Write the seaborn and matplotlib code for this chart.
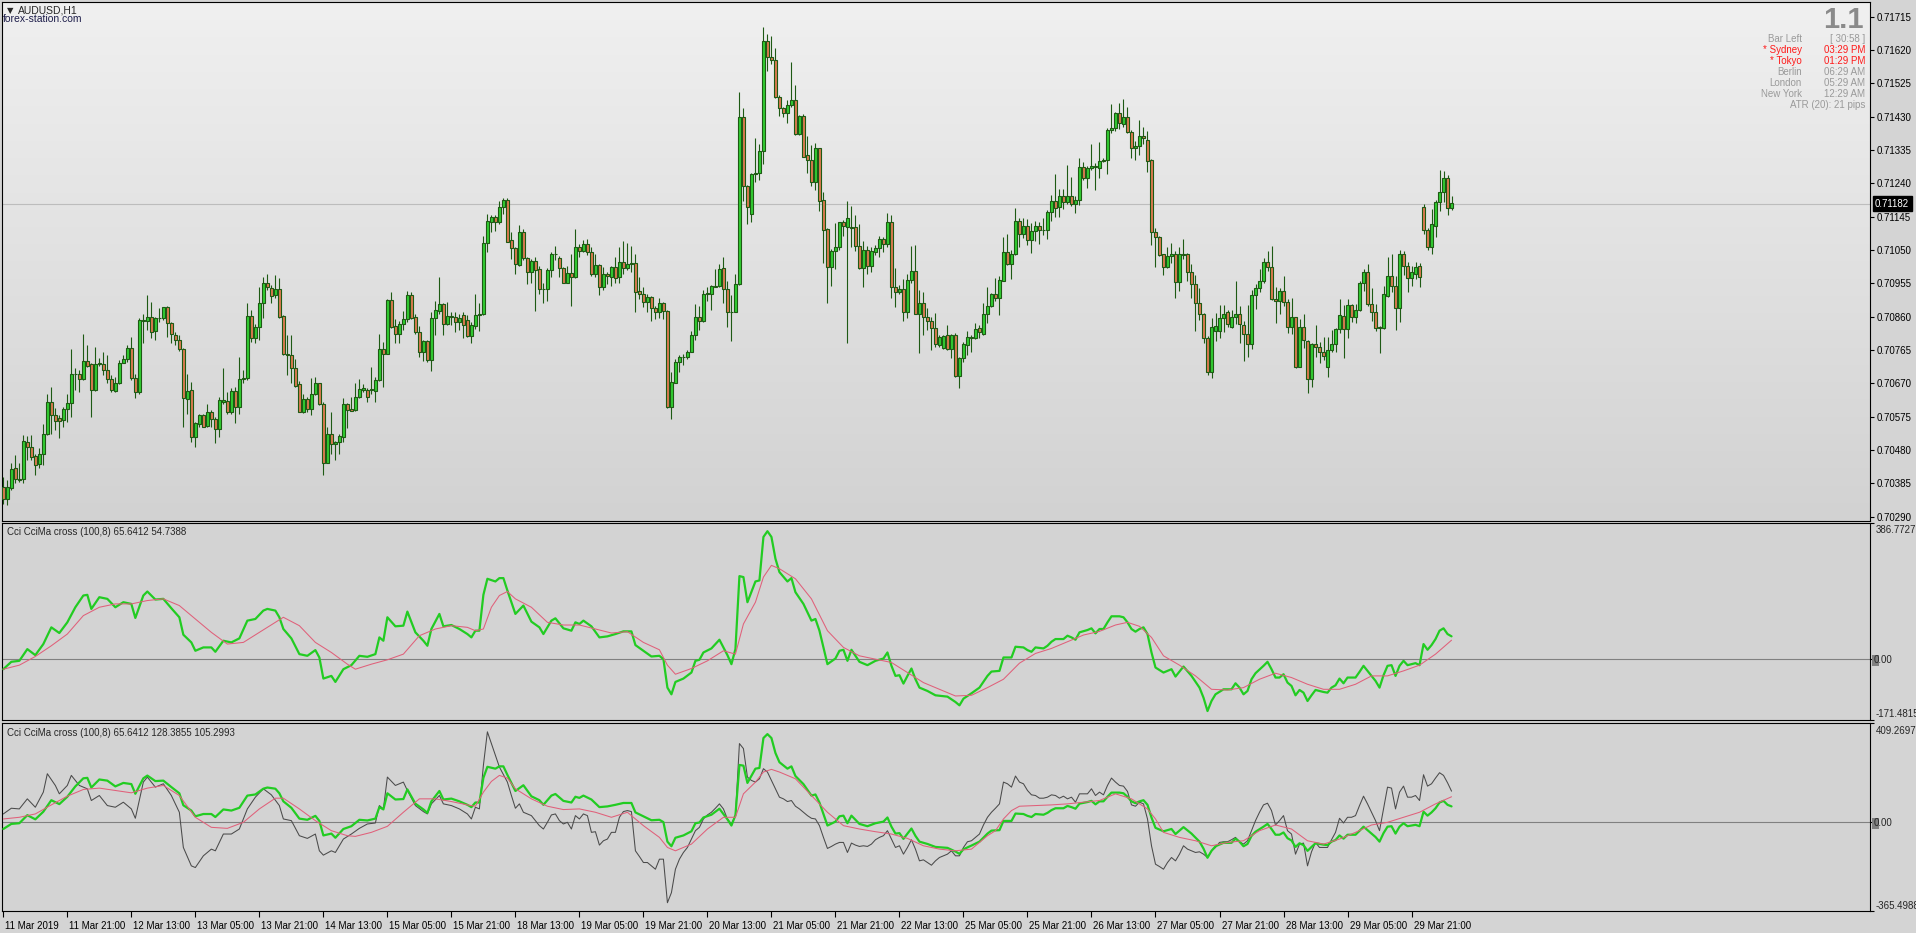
import numpy as np
import matplotlib
matplotlib.use("Agg")
import matplotlib.pyplot as plt
import matplotlib.transforms as mtrans
from matplotlib.colors import LinearSegmentedColormap
from matplotlib.patches import Rectangle
import seaborn as sns

# ---------------- DATA (AUDUSD H1, 11 Mar 2019 - 29 Mar 2019) ----------------
open_ = [
0.70374,0.70340,0.70371,0.70428,0.70397,0.70396,0.70504,0.70490,0.70463,0.70439,
0.70470,0.70527,0.70616,0.70580,0.70570,0.70565,0.70596,0.70613,0.70697,0.70697,
0.70682,0.70734,0.70724,0.70651,0.70724,0.70726,0.70708,0.70682,0.70649,0.70672,
0.70727,0.70738,0.70770,0.70686,0.70646,0.70850,0.70848,0.70858,0.70820,0.70855,
0.70855,0.70887,0.70841,0.70808,0.70793,0.70767,0.70624,0.70651,0.70516,0.70554,
0.70580,0.70548,0.70587,0.70567,0.70539,0.70618,0.70620,0.70589,0.70649,0.70603,
0.70681,0.70686,0.70862,0.70798,0.70830,0.70898,0.70955,0.70941,0.70921,0.70938,
0.70862,0.70753,0.70751,0.70713,0.70667,0.70589,0.70624,0.70596,0.70641,0.70670,
0.70610,0.70444,0.70525,0.70496,0.70502,0.70518,0.70610,0.70596,0.70594,0.70630,
0.70651,0.70651,0.70650,0.70649,0.70680,0.70767,0.70755,0.70907,0.70833,0.70812,
0.70839,0.70852,0.70922,0.70858,0.70815,0.70758,0.70791,0.70736,0.70855,0.70877,
0.70896,0.70838,0.70862,0.70859,0.70846,0.70865,0.70850,0.70806,0.70834,0.70865,
0.70867,0.71069,0.71131,0.71143,0.71131,0.71173,0.71194,0.71078,0.71055,0.71007,
0.71100,0.71026,0.70986,0.71019,0.70995,0.70938,0.70938,0.70993,0.71040,0.71026,
0.70998,0.70957,0.70985,0.70974,0.71058,0.71047,0.71066,0.71045,0.70981,0.71006,
0.70944,0.70981,0.70974,0.71002,0.70972,0.71017,0.71000,0.71009,0.71012,0.70933,
0.70926,0.70901,0.70915,0.70884,0.70872,0.70898,0.70876,0.70603,0.70672,0.70730,
0.70744,0.70744,0.70760,0.70808,0.70860,0.70849,0.70926,0.70926,0.70947,0.70947,
0.70998,0.70938,0.70872,0.70874,0.70952,0.71428,0.71233,0.71152,0.71267,0.71269,
0.71333,0.71646,0.71599,0.71591,0.71485,0.71454,0.71441,0.71462,0.71477,0.71380,
0.71432,0.71320,0.71308,0.71245,0.71340,0.71194,0.71109,0.71001,0.71047,0.71058,
0.71129,0.71115,0.71117,0.71115,0.71062,0.71000,0.71050,0.71005,0.71045,0.71055,
0.71081,0.71066,0.71129,0.70945,0.70929,0.70938,0.70874,0.70964,0.70990,0.70869,
0.70898,0.70858,0.70849,0.70827,0.70779,0.70770,0.70808,0.70767,0.70808,0.70692,
0.70741,0.70780,0.70801,0.70798,0.70827,0.70812,0.70867,0.70890,0.70926,0.70912,
0.70962,0.71043,0.71009,0.71040,0.71133,0.71097,0.71118,0.71078,0.71104,0.71119,
0.71107,0.71107,0.71158,0.71190,0.71172,0.71205,0.71188,0.71205,0.71180,0.71194,
0.71286,0.71254,0.71283,0.71290,0.71283,0.71304,0.71306,0.71392,0.71397,0.71440,
0.71409,0.71428,0.71385,0.71340,0.71346,0.71375,0.71365,0.71306,0.71100,0.71086,
0.71038,0.71001,0.71034,0.71038,0.70960,0.71038,0.71038,0.70988,0.70952,0.70898,
0.70869,0.70798,0.70703,0.70819,0.70819,0.70855,0.70872,0.70831,0.70860,0.70867,
0.70836,0.70812,0.70781,0.70922,0.70941,0.70962,0.71015,0.71002,0.70910,0.70905,
0.70933,0.70901,0.70831,0.70858,0.70717,0.70830,0.70791,0.70681,0.70781,0.70773,
0.70760,0.70717,0.70765,0.70781,0.70824,0.70862,0.70824,0.70893,0.70860,0.70879,
0.70955,0.70986,0.70896,0.70874,0.70829,0.70827,0.70920,0.70977,0.70947,0.70884,
0.71038,0.71005,0.70971,0.70983,0.71005,0.71173,0.71107,0.71059,0.71119,0.71186,
0.71214,0.71254,0.71171]

high = [
0.70402,0.70395,0.70442,0.70466,0.70442,0.70523,0.70520,0.70523,0.70470,0.70485,
0.70554,0.70641,0.70659,0.70599,0.70580,0.70603,0.70641,0.70767,0.70713,0.70708,
0.70810,0.70779,0.70729,0.70774,0.70741,0.70760,0.70751,0.70694,0.70689,0.70736,
0.70751,0.70779,0.70801,0.70698,0.70855,0.70869,0.70922,0.70903,0.70860,0.70884,
0.70889,0.70890,0.70846,0.70817,0.70808,0.70770,0.70698,0.70675,0.70561,0.70584,
0.70584,0.70610,0.70594,0.70575,0.70632,0.70713,0.70646,0.70656,0.70660,0.70744,
0.70708,0.70898,0.70879,0.70839,0.70945,0.70974,0.70982,0.70950,0.70979,0.70969,
0.70865,0.70808,0.70808,0.70738,0.70677,0.70641,0.70632,0.70684,0.70689,0.70672,
0.70618,0.70546,0.70587,0.70507,0.70526,0.70627,0.70615,0.70630,0.70670,0.70682,
0.70668,0.70656,0.70717,0.70689,0.70811,0.70789,0.70909,0.70929,0.70852,0.70849,
0.70876,0.70933,0.70929,0.70869,0.70833,0.70793,0.70793,0.70874,0.70905,0.70974,
0.70900,0.70902,0.70874,0.70873,0.70869,0.70874,0.70865,0.70846,0.70925,0.70900,
0.71090,0.71152,0.71150,0.71150,0.71190,0.71199,0.71199,0.71100,0.71059,0.71121,
0.71110,0.71031,0.71024,0.71031,0.71005,0.70957,0.71000,0.71045,0.71061,0.71033,
0.71002,0.71005,0.71038,0.71109,0.71066,0.71078,0.71081,0.71059,0.71040,0.71010,
0.71001,0.70988,0.71005,0.71031,0.71059,0.71077,0.71069,0.71061,0.71040,0.70974,
0.70944,0.70926,0.70919,0.70890,0.70912,0.70903,0.70878,0.70703,0.70738,0.70751,
0.70755,0.70765,0.70819,0.70896,0.70890,0.70936,0.70945,0.70950,0.70995,0.71010,
0.71029,0.70962,0.70922,0.70983,0.71499,0.71454,0.71235,0.71269,0.71368,0.71352,
0.71686,0.71666,0.71660,0.71625,0.71492,0.71457,0.71477,0.71587,0.71520,0.71435,
0.71438,0.71376,0.71349,0.71354,0.71341,0.71216,0.71112,0.71052,0.71126,0.71131,
0.71135,0.71190,0.71175,0.71150,0.71124,0.71076,0.71062,0.71059,0.71064,0.71090,
0.71088,0.71156,0.71150,0.71000,0.70950,0.70967,0.70983,0.71061,0.71064,0.70936,
0.70929,0.70884,0.70860,0.70871,0.70808,0.70808,0.70837,0.70812,0.70814,0.70744,
0.70789,0.70819,0.70808,0.70841,0.70836,0.70898,0.70945,0.70928,0.70969,0.70976,
0.71086,0.71096,0.71050,0.71169,0.71140,0.71140,0.71138,0.71126,0.71133,0.71131,
0.71140,0.71164,0.71207,0.71267,0.71223,0.71224,0.71292,0.71257,0.71204,0.71311,
0.71302,0.71289,0.71351,0.71297,0.71357,0.71311,0.71397,0.71466,0.71444,0.71470,
0.71480,0.71458,0.71392,0.71361,0.71420,0.71401,0.71389,0.71309,0.71114,0.71091,
0.71040,0.71059,0.71069,0.71048,0.71058,0.71081,0.71042,0.71009,0.70979,0.70943,
0.70871,0.70806,0.70857,0.70871,0.70893,0.70893,0.70879,0.70879,0.70962,0.70890,
0.70848,0.70893,0.70936,0.70953,0.70995,0.71028,0.71047,0.71061,0.70944,0.70941,
0.70977,0.70909,0.70912,0.70860,0.70853,0.70869,0.70793,0.70784,0.70836,0.70789,
0.70801,0.70801,0.70822,0.70829,0.70910,0.70893,0.70910,0.70895,0.70896,0.70962,
0.70995,0.71009,0.70943,0.70896,0.70833,0.70947,0.71031,0.71038,0.70976,0.71050,
0.71047,0.71017,0.71005,0.71015,0.71014,0.71181,0.71114,0.71166,0.71194,0.71278,
0.71275,0.71264,0.71204]

low = [
0.70326,0.70323,0.70366,0.70385,0.70390,0.70385,0.70452,0.70452,0.70409,0.70428,
0.70437,0.70523,0.70527,0.70537,0.70513,0.70546,0.70561,0.70575,0.70651,0.70646,
0.70680,0.70717,0.70575,0.70649,0.70720,0.70694,0.70670,0.70646,0.70646,0.70668,
0.70727,0.70732,0.70680,0.70627,0.70639,0.70786,0.70822,0.70798,0.70793,0.70846,
0.70850,0.70801,0.70784,0.70779,0.70763,0.70546,0.70584,0.70504,0.70490,0.70546,
0.70545,0.70545,0.70545,0.70501,0.70518,0.70611,0.70584,0.70584,0.70556,0.70584,
0.70670,0.70680,0.70789,0.70784,0.70793,0.70855,0.70936,0.70898,0.70912,0.70855,
0.70751,0.70694,0.70672,0.70660,0.70587,0.70586,0.70589,0.70580,0.70637,0.70608,
0.70409,0.70442,0.70470,0.70452,0.70470,0.70504,0.70542,0.70590,0.70590,0.70627,
0.70644,0.70618,0.70641,0.70618,0.70678,0.70660,0.70754,0.70827,0.70784,0.70784,
0.70822,0.70846,0.70852,0.70812,0.70746,0.70735,0.70732,0.70706,0.70808,0.70869,
0.70808,0.70836,0.70836,0.70817,0.70822,0.70800,0.70803,0.70784,0.70825,0.70820,
0.70865,0.71045,0.71102,0.71105,0.71123,0.71154,0.71072,0.71024,0.70982,0.71005,
0.71021,0.70952,0.70955,0.70877,0.70926,0.70898,0.70906,0.70974,0.71021,0.70974,
0.70955,0.70955,0.70891,0.70969,0.71031,0.71045,0.71036,0.70976,0.70974,0.70922,
0.70936,0.70952,0.70948,0.70955,0.70957,0.70983,0.70993,0.70988,0.70874,0.70909,
0.70887,0.70874,0.70849,0.70853,0.70855,0.70852,0.70599,0.70567,0.70670,0.70703,
0.70722,0.70739,0.70758,0.70793,0.70822,0.70846,0.70905,0.70879,0.70944,0.70944,
0.70898,0.70830,0.70792,0.70872,0.70950,0.71191,0.71123,0.71131,0.71245,0.71249,
0.71294,0.71561,0.71580,0.71484,0.71432,0.71428,0.71413,0.71458,0.71378,0.71378,
0.71314,0.71269,0.71233,0.71221,0.71162,0.71014,0.70898,0.70948,0.70995,0.71050,
0.71091,0.70786,0.71059,0.71048,0.70996,0.70945,0.70983,0.70988,0.71036,0.71031,
0.71043,0.71059,0.70914,0.70887,0.70925,0.70849,0.70855,0.70955,0.70867,0.70757,
0.70808,0.70822,0.70765,0.70774,0.70774,0.70768,0.70765,0.70741,0.70689,0.70656,
0.70730,0.70751,0.70758,0.70796,0.70798,0.70808,0.70843,0.70889,0.70906,0.70865,
0.70961,0.71007,0.70967,0.71036,0.71059,0.71083,0.71064,0.71042,0.71077,0.71067,
0.71093,0.71081,0.71134,0.71145,0.71145,0.71166,0.71181,0.71175,0.71156,0.71178,
0.71249,0.71228,0.71278,0.71221,0.71256,0.71302,0.71266,0.71384,0.71390,0.71395,
0.71401,0.71384,0.71313,0.71308,0.71321,0.71352,0.71273,0.71064,0.71002,0.71033,
0.70979,0.70998,0.71012,0.70914,0.70934,0.71024,0.70963,0.70914,0.70819,0.70850,
0.70786,0.70694,0.70684,0.70792,0.70798,0.70817,0.70831,0.70827,0.70839,0.70786,
0.70735,0.70746,0.70767,0.70882,0.70931,0.70955,0.70991,0.70907,0.70843,0.70868,
0.70890,0.70814,0.70810,0.70715,0.70716,0.70770,0.70643,0.70660,0.70746,0.70729,
0.70736,0.70689,0.70760,0.70760,0.70814,0.70743,0.70800,0.70846,0.70843,0.70877,
0.70934,0.70890,0.70849,0.70819,0.70757,0.70824,0.70917,0.70931,0.70822,0.70846,
0.70979,0.70931,0.70948,0.70967,0.70945,0.71097,0.71050,0.71038,0.71088,0.71162,
0.71188,0.71150,0.71164]

close = [
0.70340,0.70374,0.70425,0.70396,0.70395,0.70507,0.70490,0.70461,0.70437,0.70470,
0.70527,0.70616,0.70580,0.70564,0.70564,0.70596,0.70613,0.70697,0.70696,0.70682,
0.70734,0.70720,0.70651,0.70724,0.70727,0.70708,0.70682,0.70651,0.70672,0.70727,
0.70738,0.70770,0.70686,0.70646,0.70850,0.70849,0.70858,0.70817,0.70855,0.70855,
0.70887,0.70841,0.70812,0.70793,0.70767,0.70627,0.70649,0.70516,0.70556,0.70580,
0.70546,0.70587,0.70567,0.70539,0.70622,0.70622,0.70589,0.70649,0.70603,0.70681,
0.70686,0.70862,0.70798,0.70830,0.70898,0.70955,0.70945,0.70920,0.70938,0.70860,
0.70753,0.70752,0.70713,0.70663,0.70589,0.70624,0.70596,0.70641,0.70670,0.70610,
0.70444,0.70525,0.70496,0.70502,0.70520,0.70610,0.70594,0.70592,0.70630,0.70654,
0.70658,0.70632,0.70654,0.70680,0.70767,0.70755,0.70907,0.70831,0.70812,0.70839,
0.70852,0.70922,0.70857,0.70815,0.70760,0.70791,0.70736,0.70855,0.70879,0.70896,
0.70838,0.70862,0.70858,0.70846,0.70857,0.70836,0.70805,0.70836,0.70865,0.70867,
0.71069,0.71133,0.71143,0.71131,0.71173,0.71194,0.71074,0.71055,0.71009,0.71100,
0.71026,0.70986,0.71019,0.70993,0.70938,0.70938,0.70993,0.71040,0.71038,0.70998,
0.70957,0.70985,0.70972,0.71058,0.71048,0.71066,0.71045,0.70981,0.71006,0.70944,
0.70981,0.70976,0.71002,0.70969,0.71017,0.70998,0.71009,0.71014,0.70931,0.70926,
0.70901,0.70915,0.70884,0.70872,0.70898,0.70876,0.70603,0.70673,0.70730,0.70744,
0.70746,0.70760,0.70808,0.70860,0.70849,0.70926,0.70926,0.70947,0.70945,0.70995,
0.70938,0.70872,0.70874,0.70952,0.71428,0.71233,0.71172,0.71267,0.71269,0.71333,
0.71646,0.71599,0.71593,0.71485,0.71454,0.71441,0.71462,0.71477,0.71382,0.71432,
0.71316,0.71308,0.71245,0.71340,0.71191,0.71107,0.71001,0.71047,0.71058,0.71129,
0.71119,0.71140,0.71114,0.71062,0.71000,0.71050,0.71005,0.71047,0.71055,0.71081,
0.71066,0.71129,0.70945,0.70929,0.70938,0.70874,0.70964,0.70990,0.70869,0.70898,
0.70858,0.70849,0.70827,0.70781,0.70801,0.70805,0.70767,0.70808,0.70692,0.70741,
0.70782,0.70801,0.70800,0.70824,0.70815,0.70867,0.70890,0.70926,0.70912,0.70964,
0.71043,0.71009,0.71040,0.71133,0.71097,0.71118,0.71078,0.71104,0.71119,0.71107,
0.71107,0.71158,0.71190,0.71169,0.71205,0.71188,0.71205,0.71181,0.71194,0.71286,
0.71254,0.71283,0.71290,0.71286,0.71304,0.71306,0.71392,0.71397,0.71440,0.71411,
0.71428,0.71385,0.71340,0.71346,0.71375,0.71369,0.71305,0.71100,0.71086,0.71036,
0.71001,0.71034,0.71038,0.70960,0.71038,0.71037,0.70988,0.70952,0.70898,0.70867,
0.70798,0.70703,0.70830,0.70833,0.70855,0.70869,0.70838,0.70858,0.70867,0.70838,
0.70812,0.70781,0.70922,0.70941,0.70962,0.71015,0.71002,0.70910,0.70905,0.70933,
0.70901,0.70831,0.70858,0.70717,0.70830,0.70793,0.70681,0.70781,0.70773,0.70760,
0.70748,0.70765,0.70781,0.70824,0.70865,0.70824,0.70893,0.70860,0.70879,0.70955,
0.70986,0.70896,0.70874,0.70829,0.70830,0.70924,0.70977,0.70947,0.70884,0.71038,
0.71005,0.70971,0.70986,0.71002,0.70974,0.71107,0.71059,0.71123,0.71188,0.71214,
0.71254,0.71169,0.71183]

bid_price = 0.71182

price_ticks = [0.71715, 0.71620, 0.71525, 0.71430, 0.71335, 0.71240, 0.71145, 0.71050,
               0.70955, 0.70860, 0.70765, 0.70670, 0.70575, 0.70480, 0.70385, 0.70290]

date_labels = ["11 Mar 2019", "11 Mar 21:00", "12 Mar 13:00", "13 Mar 05:00", "13 Mar 21:00",
               "14 Mar 13:00", "15 Mar 05:00", "15 Mar 21:00", "18 Mar 13:00", "19 Mar 05:00",
               "19 Mar 21:00", "20 Mar 13:00", "21 Mar 05:00", "21 Mar 21:00", "22 Mar 13:00",
               "25 Mar 05:00", "25 Mar 21:00", "26 Mar 13:00", "27 Mar 05:00", "27 Mar 21:00",
               "28 Mar 13:00", "29 Mar 05:00", "29 Mar 21:00"]
date_bars = [0, 16, 32, 48, 64, 80, 96, 112, 128, 144, 160, 176, 192, 208, 224,
             240, 256, 272, 288, 304, 320, 336, 352]

# CCI(100) -- green, (bar, value)
cci_pts = [(0,-27.5),(2,-6.6),(4,-3.8),(6,29.4),(8,12.3),(10,43.7),(12,91.1),(14,75.0),(16,105.3),
(18,148.0),(20,181.3),(21,183.2),(22,143.3),(24,176.5),(26,171.8),(28,148.0),(30,162.3),(32,157.5),
(33,117.7),(35,181.3),(36,192.6),(38,169.9),(40,171.8),(42,145.2),(44,119.6),(45,70.2),(47,48.4),
(48,24.7),(50,34.2),(52,34.2),(53,21.8),(55,53.1),(57,48.4),(59,59.8),(61,110.1),(63,114.8),
(65,138.6),(66,143.3),(68,138.6),(69,119.6),(70,86.4),(72,59.8),(74,15.2),(76,10.4),(78,26.6),
(79,5.7),(80,-54.1),(82,-46.5),(83,-63.6),(85,-27.5),(87,-16.1),(89,10.4),(91,7.6),(93,15.2),
(94,62.6),(95,53.1),(96,119.6),(98,94.0),(100,95.8),(101,135.7),(103,76.9),(105,53.1),(106,38.9),
(107,86.4),(109,129.1),(110,94.0),(112,97.7),(114,86.4),(116,72.1),(117,62.6),(118,81.6),(119,81.6),
(120,183.2),(121,228.7),(123,221.1),(124,230.6),(125,230.6),(126,195.5),(128,129.1),(130,152.8),
(132,107.2),(134,91.1),(135,72.1),(137,110.1),(138,116.7),(140,88.3),(142,81.6),(143,105.3),
(144,100.6),(145,110.1),(147,94.0),(149,62.6),(151,65.5),(153,72.1),(155,79.7),(157,79.7),
(158,40.8),(160,24.7),(162,8.5),(164,10.4),(165,0.9),(166,-79.7),(167,-98.7),(168,-63.6),
(170,-54.1),(172,-37.0),(173,-3.8),(174,-0.9),(175,19.9),(177,31.3),(179,56.0),(181,12.3),
(182,-13.3),(183,29.4),(184,236.3),(185,233.5),(186,162.3),(188,221.1),(189,224.0),(190,347.3),
(191,363.5),(192,347.3),(193,285.6),(194,247.7),(196,221.1),(197,230.6),(198,190.7),(200,157.5),
(202,110.1),(203,114.8),(204,81.6),(205,34.2),(206,-13.3),(208,2.8),(209,24.7),(210,27.5),
(211,-3.8),(212,27.5),(213,10.4),(214,-6.6),(216,-16.1),(218,-3.8),(220,2.8),(221,19.9),
(222,-18.0),(223,-46.5),(224,-44.6),(225,-68.3),(226,-46.5),(227,-25.6),(228,-56.0),(229,-79.7),
(231,-89.2),(233,-101.5),(236,-105.3),(238,-120.5),(239,-130.0),(240,-111.0),(242,-95.8),
(244,-79.7),(246,-46.5),(247,-34.2),(249,-32.3),(250,5.7),(252,5.7),(253,36.1),(255,34.2),
(256,26.6),(257,21.8),(258,34.2),(260,31.3),(261,38.9),(262,50.3),(263,57.9),(265,57.9),
(266,67.4),(267,62.6),(268,56.0),(269,76.9),(271,83.5),(272,88.3),(273,74.0),(274,86.4),
(275,86.4),(276,105.3),(277,122.4),(279,122.4),(280,119.6),(281,105.3),(282,86.4),(283,78.8),
(284,86.4),(285,91.1),(286,72.1),(287,19.9),(288,-22.8),(290,-37.0),(292,-27.5),(293,-48.4),
(295,-19.9),(297,-46.5),(299,-79.7),(300,-108.2),(301,-146.1),(302,-117.7),(303,-98.7),
(305,-84.5),(307,-84.5),(308,-67.4),(309,-79.7),(310,-98.7),(311,-89.2),(312,-56.0),(313,-38.9),
(315,-18.0),(316,-6.6),(317,-27.5),(318,-51.2),(319,-51.2),(320,-41.8),(321,-65.5),(322,-75.0),
(323,-101.5),(324,-86.4),(325,-94.0),(326,-117.7),(327,-101.5),(328,-86.4),(330,-92.1),
(331,-94.0),(332,-79.7),(333,-73.1),(334,-54.1),(335,-67.4),(336,-51.2),(338,-51.2),(339,-35.1),
(340,-18.0),(341,-32.3),(342,-46.5),(343,-60.7),(344,-79.7),(345,-44.6),(346,-18.0),(347,-16.1),
(348,-46.5),(349,-18.0),(350,-3.8),(351,-16.1),(352,-13.3),(353,-10.4),(354,-16.1),(355,43.7),
(356,27.5),(357,40.8),(358,57.9),(359,81.6),(360,88.3),(361,72.1),(362,65.6)]

# CCI MA(8) -- pink, upper window
ma1_pts = [(0,-27.5),(4,-16.1),(8,8.5),(12,38.9),(16,72.1),(20,124.3),(24,148.0),(28,157.5),
(32,157.5),(36,167.0),(40,171.8),(44,152.8),(48,114.8),(52,76.9),(56,43.7),(60,48.4),(64,76.9),
(68,105.3),(70,119.6),(74,95.8),(78,48.4),(82,19.9),(86,-13.3),(88,-27.5),(92,-13.3),(96,-0.9),
(100,15.2),(104,67.4),(108,86.4),(112,95.8),(116,91.1),(118,81.6),(120,86.4),(122,148.0),
(124,181.3),(126,192.6),(128,171.8),(132,148.0),(136,105.3),(140,97.7),(144,97.7),(148,86.4),
(152,75.0),(156,78.8),(160,48.4),(164,27.5),(166,-16.1),(168,-41.8),(172,-25.6),(176,-3.8),
(180,24.7),(183,15.2),(185,100.6),(188,162.3),(190,233.5),(192,266.7),(194,257.2),(198,228.7),
(202,171.8),(206,81.6),(210,34.2),(214,10.4),(218,0.9),(222,-8.5),(226,-37.0),(230,-65.5),
(234,-84.5),(238,-103.4),(242,-101.5),(246,-79.7),(250,-56.0),(254,-10.4),(258,17.1),(262,31.3),
(266,50.3),(270,69.3),(274,79.7),(278,97.7),(281,105.3),(284,94.0),(287,62.6),(290,10.4),
(294,-16.1),(298,-46.5),(302,-84.5),(306,-86.4),(310,-79.7),(314,-56.0),(318,-38.9),(322,-51.2),
(326,-70.2),(330,-84.5),(334,-84.5),(338,-70.2),(342,-46.5),(346,-46.5),(350,-32.3),(354,-16.1),
(358,15.2),(362,54.7)]

# fast CCI -- dark grey, lower window
fast_pts = [(0,34.5),(2,58.0),(4,55.2),(6,96.7),(8,62.1),(10,124.3),(11,200.2),(13,151.9),
(14,117.4),(16,151.9),(17,193.3),(19,151.9),(21,138.1),(22,89.8),(24,110.5),(26,69.0),(28,62.1),
(30,82.9),(32,55.2),(33,16.6),(35,165.7),(36,186.4),(38,145.0),(40,158.8),(42,110.5),(44,41.4),
(45,-103.6),(47,-179.5),(48,-186.4),(50,-138.1),(52,-110.5),(53,-117.4),(55,-48.3),(57,-48.3),
(59,-27.6),(61,55.2),(63,103.6),(65,138.1),(67,113.2),(69,69.0),(70,13.8),(72,6.9),(74,-55.2),
(76,-66.3),(78,-48.3),(79,-117.4),(80,-135.3),(82,-117.4),(83,-124.3),(85,-69.0),(87,-48.3),
(89,-24.9),(91,-6.9),(93,-2.8),(94,69.0),(95,55.2),(96,186.4),(98,151.9),(100,165.7),(101,131.2),
(103,69.0),(105,44.2),(106,34.5),(107,76.0),(109,110.5),(110,76.0),(112,69.0),(114,55.2),
(116,34.5),(117,13.8),(118,62.1),(119,55.2),(120,234.8),(121,372.9),(123,276.2),(124,227.9),
(126,165.7),(127,110.5),(128,58.0),(129,76.0),(130,41.4),(132,27.6),(134,-13.8),(135,-27.6),
(136,0.0),(137,30.4),(138,34.5),(139,6.9),(140,-6.9),(141,0.0),(142,-27.6),(143,27.6),(144,13.8),
(145,34.5),(146,27.6),(147,-41.4),(148,-38.7),(149,-93.9),(150,-76.0),(151,-69.0),(152,-41.4),
(153,-41.4),(154,20.7),(155,44.2),(156,48.3),(157,44.2),(158,-117.4),(159,-140.9),(160,-165.7),
(161,-165.7),(162,-179.5),(163,-193.3),(164,-151.9),(165,-151.9),(166,-331.4),(167,-290.0),
(168,-193.3),(169,-151.9),(170,-124.3),(171,-103.6),(172,-69.0),(173,-34.5),(174,-20.7),
(175,13.8),(176,30.4),(177,41.4),(178,58.0),(179,76.0),(180,55.2),(181,13.8),(182,-6.9),
(183,27.6),(184,324.5),(185,303.8),(186,186.4),(187,172.6),(188,165.7),(189,179.5),(190,221.0),
(191,207.2),(192,172.6),(193,138.1),(194,103.6),(195,96.7),(196,85.6),(197,89.8),(198,66.3),
(199,55.2),(200,41.4),(201,27.6),(202,16.6),(203,13.8),(204,-13.8),(205,-62.1),(206,-107.7),
(207,-99.4),(208,-89.8),(209,-82.9),(210,-82.9),(211,-124.3),(212,-85.6),(213,-93.9),(214,-99.4),
(215,-96.7),(216,-99.4),(217,-89.8),(218,-71.8),(219,-62.1),(220,-55.2),(221,-34.5),(222,-69.0),
(223,-103.6),(224,-96.7),(225,-131.2),(226,-103.6),(227,-71.8),(228,-110.5),(229,-158.8),
(230,-154.7),(231,-165.7),(232,-176.8),(233,-158.8),(234,-145.0),(235,-138.1),(236,-131.2),
(237,-117.4),(238,-138.1),(239,-138.1),(240,-103.6),(241,-80.1),(242,-76.0),(243,-62.1),
(244,-48.3),(245,-11.0),(246,20.7),(247,41.4),(248,58.0),(249,76.0),(250,165.7),(251,158.8),
(252,145.0),(253,190.6),(254,165.7),(255,158.8),(256,131.2),(257,113.2),(258,110.5),(259,99.4),
(260,99.4),(261,103.6),(262,113.2),(263,110.5),(264,99.4),(265,107.7),(266,96.7),(267,103.6),
(268,82.9),(269,117.4),(270,117.4),(271,117.4),(272,138.1),(273,110.5),(274,124.3),(275,113.2),
(276,151.9),(277,182.3),(278,165.7),(279,151.9),(280,149.1),(281,127.1),(282,71.8),(283,66.3),
(284,82.9),(285,76.0),(286,13.8),(287,-96.7),(288,-172.6),(289,-182.3),(290,-193.3),(291,-165.7),
(292,-145.0),(293,-158.8),(294,-131.2),(295,-96.7),(296,-110.5),(297,-117.4),(298,-124.3),
(299,-121.5),(300,-131.2),(301,-145.0),(302,-117.4),(303,-103.6),(304,-82.9),(305,-80.1),
(306,-80.1),(307,-71.8),(308,-62.1),(309,-80.1),(310,-89.8),(311,-76.0),(312,-34.5),(313,6.9),
(314,41.4),(315,71.8),(316,78.7),(317,48.3),(318,-11.0),(319,6.9),(320,27.6),(321,-34.5),
(322,-48.3),(323,-131.2),(324,-89.8),(325,-85.6),(326,-179.5),(327,-121.5),(328,-82.9),
(329,-103.6),(330,-103.6),(331,-103.6),(332,-71.8),(333,-41.4),(334,16.6),(335,-2.8),(336,20.7),
(337,20.7),(338,27.6),(339,69.0),(340,107.7),(341,76.0),(342,41.4),(343,6.9),(344,-34.5),
(345,55.2),(346,145.0),(347,140.9),(348,55.2),(349,124.3),(350,149.1),(351,103.6),(352,103.6),
(353,110.5),(354,89.8),(355,196.1),(356,149.1),(357,158.8),(358,182.3),(359,204.4),(360,193.3),
(361,162.9),(362,128.4)]

# MA -- pink, lower window
ma2_pts = [(0,13.8),(4,20.7),(8,34.5),(12,71.8),(16,107.7),(20,135.3),(24,140.9),(28,131.2),
(32,121.5),(36,140.9),(40,151.9),(44,110.5),(48,20.7),(52,-20.7),(56,-24.9),(60,0.0),(64,55.2),
(68,99.4),(70,99.4),(74,55.2),(78,6.9),(82,-34.5),(86,-55.2),(88,-58.0),(92,-41.4),(96,-16.6),
(100,41.4),(104,96.7),(108,96.7),(112,85.6),(116,71.8),(118,66.3),(120,124.3),(122,168.5),
(124,193.3),(126,182.3),(128,138.1),(132,96.7),(136,66.3),(140,52.5),(144,55.2),(148,41.4),
(152,20.7),(156,41.4),(160,-13.8),(164,-62.1),(166,-103.6),(168,-117.4),(172,-89.8),(176,-27.6),
(180,20.7),(183,20.7),(185,117.4),(188,165.7),(190,207.2),(192,218.2),(194,207.2),(198,179.5),
(202,110.5),(206,41.4),(210,-13.8),(214,-27.6),(218,-38.7),(222,-48.3),(226,-66.3),(230,-96.7),
(234,-110.5),(238,-117.4),(242,-110.5),(246,-55.2),(248,-34.5),(250,13.8),(252,48.3),(254,66.3),
(258,69.0),(262,71.8),(266,76.0),(270,82.9),(274,89.8),(278,117.4),(282,96.7),(286,55.2),
(288,13.8),(290,-41.4),(294,-62.1),(298,-76.0),(302,-96.7),(306,-82.9),(310,-76.0),(314,-34.5),
(318,-11.0),(322,-27.6),(326,-76.0),(330,-89.8),(334,-69.0),(338,-41.4),(342,-11.0),(346,0.0),
(350,20.7),(354,41.4),(358,76.0),(362,105.3)]

title1 = "Cci CciMa cross (100,8) 65.6412 54.7388"
title2 = "Cci CciMa cross (100,8) 65.6412 128.3855 105.2993"
win1_limits = (-171.4815, 386.7727)
win2_limits = (-365.4988, 409.2697)

# ---------------- STYLE / LAYOUT ----------------
sns.set_theme(style="white")
plt.rcParams['font.family'] = ['Liberation Sans', 'DejaVu Sans']

W, H = 1916, 933
fig = plt.figure(figsize=(W / 100, H / 100), dpi=100, facecolor='#d4d4d4')

def box(x0, y0, x1, y1):
    return [x0 / W, 1 - y1 / H, (x1 - x0) / W, (y1 - y0) / H]

def fx(px):
    return px / W

def fy(py):
    return 1 - py / H

BULL = '#32cd32'
BEAR = '#dc7a50'
EDGE = '#1e5a14'
GREEN = '#22cc22'
PINK = '#e0607a'
GREY = '#4a4a4a'
XLIM = (-0.33, 466.6)

ax_bg = fig.add_axes(box(2, 2, 1870, 521), zorder=0)
grad = LinearSegmentedColormap.from_list('bg', ['#f0f0f0', '#d2d2d2'])
ax_bg.imshow(np.linspace(0, 1, 256).reshape(-1, 1), cmap=grad, aspect='auto',
             interpolation='bilinear')
ax_bg.set_axis_off()

ax = fig.add_axes(box(2, 2, 1870, 521), zorder=1)
ax.patch.set_alpha(0)
ax1 = fig.add_axes(box(2, 523, 1870, 720), zorder=1)
ax2 = fig.add_axes(box(2, 723, 1870, 911), zorder=1)

# ---------------- CANDLES ----------------
o = np.array(open_); h = np.array(high); l = np.array(low); c = np.array(close)
x = np.arange(len(o))
bull = c >= o
body_lo = np.minimum(o, c)
body_h = np.maximum(np.abs(c - o), 0.000015)
ax.axhline(bid_price, color='#bdbdbd', lw=0.8, zorder=1)
ax.vlines(x, l, h, color=EDGE, lw=0.8, zorder=2)
ax.bar(x, body_h, bottom=body_lo, width=0.72,
       color=[BULL if b else BEAR for b in bull], edgecolor=EDGE, linewidth=0.8, zorder=3)
ax.set_xlim(*XLIM)
ax.set_ylim(0.702777, 0.717569)
ax.set_xticks([])
ax.yaxis.tick_right()
ax.set_yticks(price_ticks)
ax.set_yticklabels([f"{p:.5f}" for p in price_ticks])
ax.tick_params(axis='y', which='both', length=3, width=0.8, pad=2, labelsize=7,
               colors='black', direction='out', right=True, left=False)

trans = mtrans.blended_transform_factory(ax.transAxes, ax.transData)
ax.annotate(f"{bid_price:.5f}", xy=(1, bid_price), xycoords=trans, xytext=(5, 0),
            textcoords='offset pixels', ha='left', va='center', color='white', fontsize=7,
            bbox=dict(boxstyle='square,pad=0.25', fc='black', ec='black'),
            annotation_clip=False, zorder=10)

# ---------------- INDICATOR WINDOWS ----------------
def unzip(pts):
    return [p[0] for p in pts], [p[1] for p in pts]

cb, cv = unzip(cci_pts)
m1b, m1v = unzip(ma1_pts)
fb, fv = unzip(fast_pts)
m2b, m2v = unzip(ma2_pts)

for a, lim in ((ax1, win1_limits), (ax2, win2_limits)):
    a.set_facecolor('#d3d3d3')
    a.axhline(0, color='#808080', lw=0.8, zorder=1)
    a.set_xlim(*XLIM)
    a.set_ylim(*lim)
    a.yaxis.tick_right()
    a.set_yticks([lim[0], 0, lim[1]])
    a.set_yticklabels([])
    a.tick_params(axis='y', length=3, width=0.8, colors='black', direction='out',
                  right=True, left=False)

sns.lineplot(x=cb, y=cv, ax=ax1, color=GREEN, lw=1.6, legend=False, zorder=3)
sns.lineplot(x=m1b, y=m1v, ax=ax1, color=PINK, lw=0.75, legend=False, zorder=4)

sns.lineplot(x=fb, y=fv, ax=ax2, color=GREY, lw=0.75, legend=False, zorder=2)
sns.lineplot(x=cb, y=cv, ax=ax2, color=GREEN, lw=1.6, legend=False, zorder=3)
sns.lineplot(x=m2b, y=m2v, ax=ax2, color=PINK, lw=0.75, legend=False, zorder=4)

for a in (ax, ax1, ax2):
    a.set_xlabel('')
    a.set_ylabel('')
    for s in a.spines.values():
        s.set_color('black')
        s.set_linewidth(0.8)
        s.set_visible(True)

ax1.set_xticks([])
ax2.set_xticks(date_bars)
ax2.set_xticklabels(date_labels, ha='left', fontsize=7)
ax2.tick_params(axis='x', length=4, width=0.8, pad=3, colors='black', direction='out',
                bottom=True)
shift = mtrans.ScaledTranslation(2 / 100, 0, fig.dpi_scale_trans)
for lab in ax2.get_xticklabels():
    lab.set_transform(lab.get_transform() + shift)

# indicator scale labels
fig.text(fx(1876), fy(530), f"{win1_limits[1]:.4f}", fontsize=7, va='center', ha='left')
fig.text(fx(1876), fy(714), f"{win1_limits[0]:.4f}", fontsize=7, va='center', ha='left')
fig.text(fx(1876), fy(731), f"{win2_limits[1]:.4f}", fontsize=7, va='center', ha='left')
fig.text(fx(1876), fy(906), f"{win2_limits[0]:.4f}", fontsize=7, va='center', ha='left')
for yz in (660, 823):
    fig.patches.append(Rectangle((fx(1872), fy(yz + 5.5)), 7 / W, 11 / H,
                                 transform=fig.transFigure, facecolor='#808080',
                                 edgecolor='none', zorder=5))
    fig.text(fx(1874), fy(yz), "0.00", fontsize=7, va='center', ha='left', zorder=6)

fig.text(fx(7), fy(532), title1, fontsize=7, va='center', ha='left')
fig.text(fx(7), fy(733), title2, fontsize=7, va='center', ha='left')

# ---------------- HEADER TEXTS ----------------
fig.text(fx(7), fy(11), "\u25bc", fontsize=6, va='center', ha='left', family=['DejaVu Sans'])
fig.text(fx(18), fy(10.5), "AUDUSD,H1", fontsize=7.5, va='center', ha='left')
fig.text(fx(3), fy(19.5), "forex-station.com", fontsize=7.5, va='center', ha='left',
         color='#1d1d4a')

fig.text(fx(1864), fy(20), "1.1", fontsize=21, fontweight='bold', color='#8a8a8a',
         va='center', ha='right')
info_grey = '#9a9a9a'
info_red = '#ff1a1a'
rows = [("Bar Left", "[ 30:58 ]", info_grey), ("* Sydney", "03:29 PM", info_red),
        ("* Tokyo", "01:29 PM", info_red), ("Berlin", "06:29 AM", info_grey),
        ("London", "05:29 AM", info_grey), ("New York", "12:29 AM", info_grey)]
row_y = [38.5, 50, 61, 72, 83, 94]
for (lab, val, col), yy in zip(rows, row_y):
    fig.text(fx(1802), fy(yy), lab, fontsize=7, color=col, va='center', ha='right')
    fig.text(fx(1865), fy(yy), val, fontsize=7, color=col, va='center', ha='right')
fig.text(fx(1865), fy(105), "ATR (20): 21 pips", fontsize=7, color=info_grey,
         va='center', ha='right')

fig.savefig('out.png', dpi=100, facecolor=fig.get_facecolor())
